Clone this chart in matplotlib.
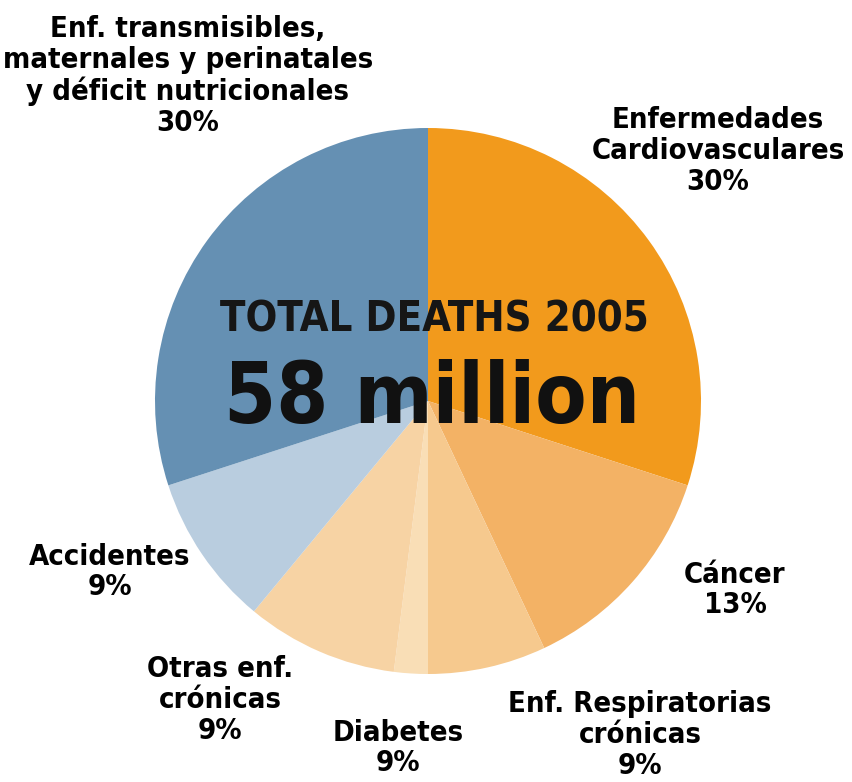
import matplotlib
matplotlib.use("Agg")
import matplotlib.pyplot as plt
from matplotlib import font_manager

# porcentaje de muertes por causa (sentido horario desde arriba)
causas = ["Cardiovasculares", "Cáncer", "Respiratorias", "Diabetes",
          "Otras crónicas", "Accidentes", "Transmisibles"]
porcentajes = [30, 13, 7, 2, 9, 9, 30]
colores = ["#F29A1C", "#F3B265", "#F6C98E", "#F9DEB6", "#F7D3A4",
           "#B9CDDF", "#6590B3"]

# etiquetas tal como aparecen en el grafico
etiquetas = [
    "Enfermedades\nCardiovasculares\n30%",
    "Cáncer\n13%",
    "Enf. Respiratorias\ncrónicas\n9%",
    "Diabetes\n9%",
    "Otras enf.\ncrónicas\n9%",
    "Accidentes\n9%",
    "Enf. transmisibles,\nmaternales y perinatales\ny déficit nutricionales\n30%",
]
pos_etiquetas = [(718, 151), (735, 590), (640, 735), (398, 748),
                 (220, 700), (110, 572), (188, 76)]

nombres = {f.name for f in font_manager.fontManager.ttflist}
if "Liberation Sans Narrow" in nombres:
    fuente = dict(family="Liberation Sans Narrow")
else:
    fuente = dict(family="DejaVu Sans", stretch="condensed")

W, H = 852, 782
fig = plt.figure(figsize=(W / 100, H / 100), dpi=100)
ax = fig.add_axes([0, 0, 1, 1])

cx, cy, r = 428, H - 401, 273
ax.pie(porcentajes, colors=colores, startangle=90, counterclock=False,
       center=(cx, cy), radius=r, frame=True,
       wedgeprops=dict(linewidth=0))
ax.set_xlim(0, W)
ax.set_ylim(0, H)
ax.set_aspect("equal")
ax.axis("off")

ax.text(434, H - 319, "TOTAL DEATHS 2005", ha="center", va="center",
        fontsize=30, fontweight="bold", color="#161616", **fuente)
ax.text(432, H - 400, "58 million", ha="center", va="center",
        fontsize=60, fontweight="bold", color="#111111", **fuente)

for texto, (x, y) in zip(etiquetas, pos_etiquetas):
    ax.text(x, H - y, texto, ha="center", va="center", multialignment="center",
            fontsize=21, fontweight="bold", color="black", linespacing=1.13,
            **fuente)

fig.savefig("out.png", dpi=100)
